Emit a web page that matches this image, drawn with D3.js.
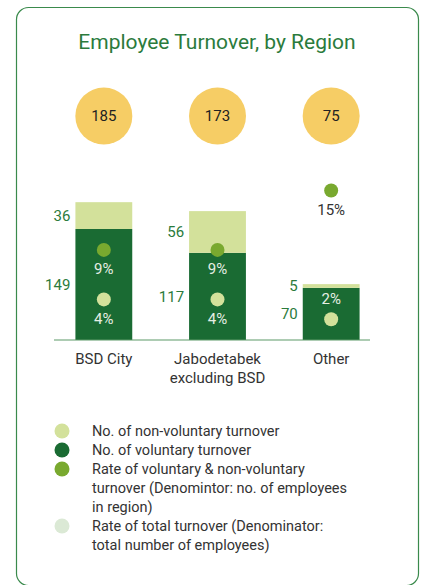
<!DOCTYPE html>
<html>
<head>
<meta charset="utf-8">
<script src="https://cdn.jsdelivr.net/npm/d3@7"></script>
<style>
  body { margin: 0; background: #fff; }
  svg text { font-family: Roboto, "Noto Sans", sans-serif; }
</style>
</head>
<body>
<svg id="chart" width="422" height="585"></svg>
<script>
// --- data ---
const regions = ["BSD City", "Jabodetabek excluding BSD", "Other"];
const regionLines = [["BSD City"], ["Jabodetabek", "excluding BSD"], ["Other"]];
const totals = [185, 173, 75];
const voluntary = [149, 117, 70];
const nonVoluntary = [36, 56, 5];
const regionRate = [9, 9, 15];   // rate of voluntary & non-voluntary (per region)
const totalRate = [4, 4, 2];     // rate of total turnover
const legendItems = [
  { color: "#d3e19b", lines: ["No. of non-voluntary turnover"] },
  { color: "#1a6b33", lines: ["No. of voluntary turnover"] },
  { color: "#79a92f", lines: ["Rate of voluntary & non-voluntary", "turnover (Denomintor: no. of employees", "in region)"] },
  { color: "#dbe9d5", lines: ["Rate of total turnover (Denominator:", "total number of employees)"] }
];

const colors = { dark: "#1a6b33", light: "#d3e19b", rate: "#79a92f", yellow: "#f6cd65", green: "#2b7b3c", text: "#333" };

const svg = d3.select("#chart");

// card frame
svg.append("rect")
  .attr("x", 16.5).attr("y", 7.5)
  .attr("width", 402).attr("height", 578)
  .attr("rx", 12).attr("ry", 12)
  .attr("fill", "#fff")
  .attr("stroke", "#3a8a4c").attr("stroke-width", 1.2);

svg.append("text")
  .attr("x", 217).attr("y", 49)
  .attr("text-anchor", "middle")
  .attr("font-size", 21)
  .attr("fill", colors.green)
  .text("Employee Turnover, by Region");

// scales
const x = d3.scaleBand().domain(regions).range([47, 388]).paddingInner(0.5).paddingOuter(0.25);
const y = d3.scaleLinear().domain([0, 200]).range([340, 191]);
const yRate = d3.scaleLinear().domain([0, 20]).range([339, 141]);

const g = svg.append("g");

// total circles
g.selectAll("circle.total").data(regions).join("circle")
  .attr("class", "total")
  .attr("cx", d => x(d) + x.bandwidth() / 2)
  .attr("cy", 116)
  .attr("r", 28.5)
  .attr("fill", colors.yellow);
g.selectAll("text.total").data(regions).join("text")
  .attr("class", "total")
  .attr("x", d => x(d) + x.bandwidth() / 2)
  .attr("y", 116)
  .attr("dy", "0.35em")
  .attr("text-anchor", "middle")
  .attr("font-size", 15)
  .attr("fill", "#222")
  .text((d, i) => totals[i]);

// stacked bars
const stackData = regions.map((r, i) => ({ region: r, voluntary: voluntary[i], nonVoluntary: nonVoluntary[i] }));
const series = d3.stack().keys(["voluntary", "nonVoluntary"])(stackData);
g.selectAll("g.series").data(series).join("g")
  .attr("class", "series")
  .attr("fill", d => d.key === "voluntary" ? colors.dark : colors.light)
  .selectAll("rect").data(d => d).join("rect")
  .attr("x", d => x(d.data.region))
  .attr("y", d => y(d[1]))
  .attr("width", x.bandwidth())
  .attr("height", d => y(d[0]) - y(d[1]));

// value labels to the left of bars
series.forEach(s => {
  g.selectAll(null).data(s).join("text")
    .attr("x", d => x(d.data.region) - 5)
    .attr("y", d => (y(d[0]) + y(d[1])) / 2)
    .attr("dy", "0.35em")
    .attr("text-anchor", "end")
    .attr("font-size", 15)
    .attr("fill", colors.green)
    .text(d => d.data[s.key]);
});

// baseline axis
const axis = g.append("g").attr("transform", `translate(0,${y(0)})`)
  .call(d3.axisBottom(x).tickSize(0).tickFormat(""));
axis.select(".domain").attr("stroke", "#5c9a69").attr("stroke-width", 1.2)
  .attr("d", "M54,0H370");

// category labels
regions.forEach((r, i) => {
  regionLines[i].forEach((line, j) => {
    g.append("text")
      .attr("x", x(r) + x.bandwidth() / 2)
      .attr("y", 359 + j * 19)
      .attr("dy", "0.35em")
      .attr("text-anchor", "middle")
      .attr("font-size", 15)
      .attr("fill", colors.text)
      .text(line);
  });
});

// rate dots
const cx = i => x(regions[i]) + x.bandwidth() / 2;
regions.forEach((r, i) => {
  // region rate (green)
  const ry = yRate(regionRate[i]);
  const insideR = ry > y(voluntary[i] + nonVoluntary[i]);
  g.append("circle").attr("cx", cx(i)).attr("cy", ry).attr("r", 7).attr("fill", colors.rate);
  g.append("text").attr("x", cx(i)).attr("y", ry + 19).attr("dy", "0.35em")
    .attr("text-anchor", "middle").attr("font-size", 15)
    .attr("fill", insideR ? "#e6eee3" : colors.text)
    .text(regionRate[i] + "%");

  // total rate (light)
  const ty = yRate(totalRate[i]);
  g.append("circle").attr("cx", cx(i)).attr("cy", ty).attr("r", 7).attr("fill", colors.light);
  const labelBelow = ty + 19 < y(0) - 6;
  g.append("text").attr("x", cx(i)).attr("y", labelBelow ? ty + 19 : ty - 20).attr("dy", "0.35em")
    .attr("text-anchor", "middle").attr("font-size", 15)
    .attr("fill", "#e6eee3")
    .text(totalRate[i] + "%");
});

// legend
let ly = 431;
const legend = svg.append("g");
legendItems.forEach(item => {
  legend.append("circle").attr("cx", 62).attr("cy", ly).attr("r", 7.5).attr("fill", item.color);
  item.lines.forEach((line, j) => {
    legend.append("text")
      .attr("x", 92).attr("y", ly + j * 19)
      .attr("dy", "0.35em")
      .attr("font-size", 14.5)
      .attr("fill", colors.text)
      .text(line);
  });
  ly += item.lines.length * 19 + (item.lines.length > 1 ? 0 : 0);
});
</script>
</body>
</html>
